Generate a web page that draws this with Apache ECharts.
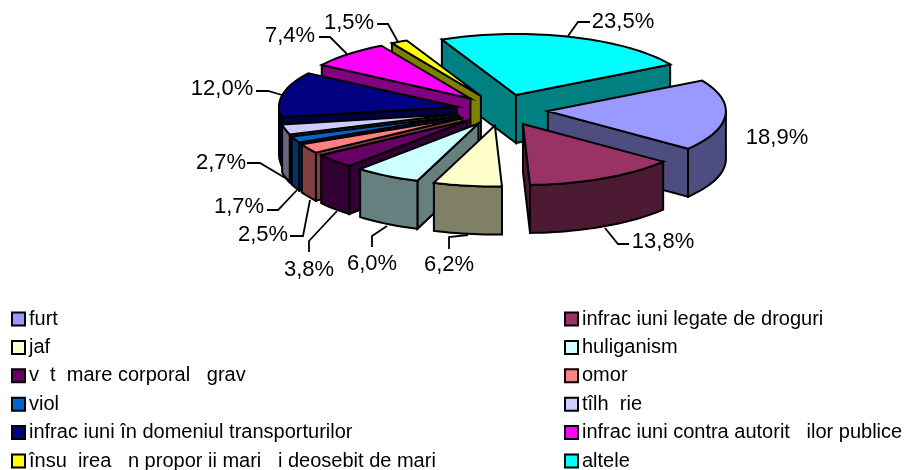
<!DOCTYPE html>
<html>
<head>
<meta charset="utf-8">
<style>
  html, body { margin: 0; padding: 0; background: #fff; }
  #chart { width: 908px; height: 470px; }
</style>
<script src="https://cdn.jsdelivr.net/npm/echarts@6/dist/echarts.min.js"></script>
</head>
<body>
<div id="chart"></div>
<script>
// values, clockwise from the first slice
const categories = [
  'furt', 'infrac iuni legate de droguri', 'jaf', 'huliganism',
  'v  t  mare corporal   grav', 'omor', 'viol', 'tîlh  rie',
  'infrac iuni în domeniul transporturilor', 'infrac iuni contra autorit   ilor publice',
  'însu  irea   n propor ii mari   i deosebit de mari', 'altele'
];
const shares = [18.9, 13.8, 6.2, 6.0, 3.8, 2.5, 1.7, 2.7, 12.0, 7.4, 1.5, 23.5];
const colors = [
  '#9999FF', '#993366', '#FFFFCC', '#CCFFFF', '#660066', '#FF8080',
  '#0066CC', '#CCCCFF', '#000080', '#FF00FF', '#FFFF00', '#00FFFF'
];

// where the percent labels sit and how their leader lines run
const labelCenters = [
  [777, 138], [663, 242], [449, 265], [372, 264], [309, 270], [263, 235],
  [239, 207], [221, 163], [222, 89], [290, 36], [349, 23], [623, 22]
];
const leaders = [
  null,
  [[605, 228], [618, 244], [629, 244]],
  [[468, 235], [449, 237], [449, 249]],
  [[387, 226], [372, 236], [372, 247]],
  [[337, 211], [309, 241], [309, 252]],
  [[310, 200], [303, 236], [290, 236]],
  [[297, 190], [278, 210], [267, 210]],
  [[292, 182], [260, 163], [247, 163]],
  [[282, 95], [268, 91], [256, 91]],
  [[347, 54], [330, 37], [319, 37]],
  [[398, 42], [388, 24], [377, 24]],
  [[568, 36], [578, 22], [590, 22]]
];

// tilted pie geometry
const cx = 502;
const cy = 110;
const rx = 178;
const ry = 61;
const depth = 48;
const explode = 46;
const firstAngle = 60;
const font = '"Liberation Sans", Arial, sans-serif';

const total = shares.reduce((a, b) => a + b, 0);
const rad = (deg) => deg * Math.PI / 180;

const spans = [];
let running = firstAngle;
shares.forEach((v) => {
  const next = running + v / total * 360;
  spans.push([running, next]);
  running = next;
});

// back slices get painted first
const backness = spans.map((s) => Math.cos(rad((s[0] + s[1]) / 2)));
const paintOrder = backness.map((_, i) => i).sort((a, b) => backness[b] - backness[a]);

const halve = (hex) => {
  const n = parseInt(hex.slice(1), 16);
  const c = [(n >> 16) & 255, (n >> 8) & 255, n & 255].map((x) => Math.round(x / 2));
  return `rgb(${c[0]},${c[1]},${c[2]})`;
};

const renderSlice = (index) => (params, api) => {
  const [a, b] = spans[index];
  const mid = (a + b) / 2;
  const ax = cx + explode * Math.sin(rad(mid));
  const ay = cy - explode * (ry / rx) * Math.cos(rad(mid));
  const rim = (deg) => [ax + rx * Math.sin(rad(deg)), ay - ry * Math.cos(rad(deg))];
  const drop = (p) => [p[0], p[1] + depth];
  const arc = (from, to) => {
    const pts = [];
    const steps = Math.max(2, Math.ceil((to - from) / 2));
    for (let i = 0; i <= steps; i++) pts.push(rim(from + (to - from) * i / steps));
    return pts;
  };
  const wallColor = halve(colors[index]);
  const face = (points, fill, z2) => ({
    type: 'polygon',
    z2,
    shape: { points },
    style: { fill, stroke: '#000', lineWidth: 2, lineJoin: 'miter' }
  });

  const children = [];
  const apex = [ax, ay];
  if (Math.sin(rad(a)) < 0) {
    children.push(face([apex, rim(a), drop(rim(a)), drop(apex)], wallColor, 1));
  }
  if (Math.sin(rad(b)) > 0) {
    children.push(face([apex, rim(b), drop(rim(b)), drop(apex)], wallColor, 1));
  }
  const from = Math.max(a, 90);
  const to = Math.min(b, 270);
  if (to > from) {
    const top = arc(from, to);
    children.push(face(top.concat(top.slice().reverse().map(drop)), wallColor, 2));
  }
  children.push(face([apex].concat(arc(a, b)), colors[index], 3));
  return { type: 'group', children };
};

const sliceSeries = categories.map((name, i) => ({
  type: 'custom',
  name,
  coordinateSystem: 'none',
  z: 2 + paintOrder.indexOf(i),
  silent: true,
  itemStyle: { color: colors[i] },
  data: [[shares[i]]],
  renderItem: renderSlice(i)
}));

const labelSeries = {
  type: 'custom',
  name: 'labels',
  coordinateSystem: 'none',
  z: 40,
  silent: true,
  data: shares.map((v) => [v]),
  renderItem: (params, api) => {
    const i = params.dataIndex;
    const children = [{
      type: 'text',
      style: {
        x: labelCenters[i][0],
        y: labelCenters[i][1],
        text: api.value(0).toFixed(1).replace('.', ',') + '%',
        fontFamily: font,
        fontSize: 22,
        fill: '#000',
        align: 'center',
        verticalAlign: 'middle'
      }
    }];
    if (leaders[i]) {
      children.push({
        type: 'polyline',
        shape: { points: leaders[i] },
        style: { fill: null, stroke: '#000', lineWidth: 1.8 }
      });
    }
    return { type: 'group', children };
  }
};

const legendBase = {
  orient: 'vertical',
  top: 309,
  height: 175,
  padding: 0,
  selectedMode: false,
  icon: 'rect',
  itemWidth: 13,
  itemHeight: 13,
  itemGap: 8.4,
  itemStyle: { borderColor: '#000', borderWidth: 2 },
  textStyle: { fontFamily: font, fontSize: 20, color: '#000', padding: [0, 0, 0, -1] }
};

const chart = echarts.init(document.getElementById('chart'));
chart.setOption({
  backgroundColor: '#fff',
  animation: false,
  legend: [
    Object.assign({}, legendBase, { left: 11, data: categories.filter((_, i) => i % 2 === 0) }),
    Object.assign({}, legendBase, { left: 564, data: categories.filter((_, i) => i % 2 === 1) })
  ],
  series: sliceSeries.concat(labelSeries)
});
</script>
</body>
</html>
